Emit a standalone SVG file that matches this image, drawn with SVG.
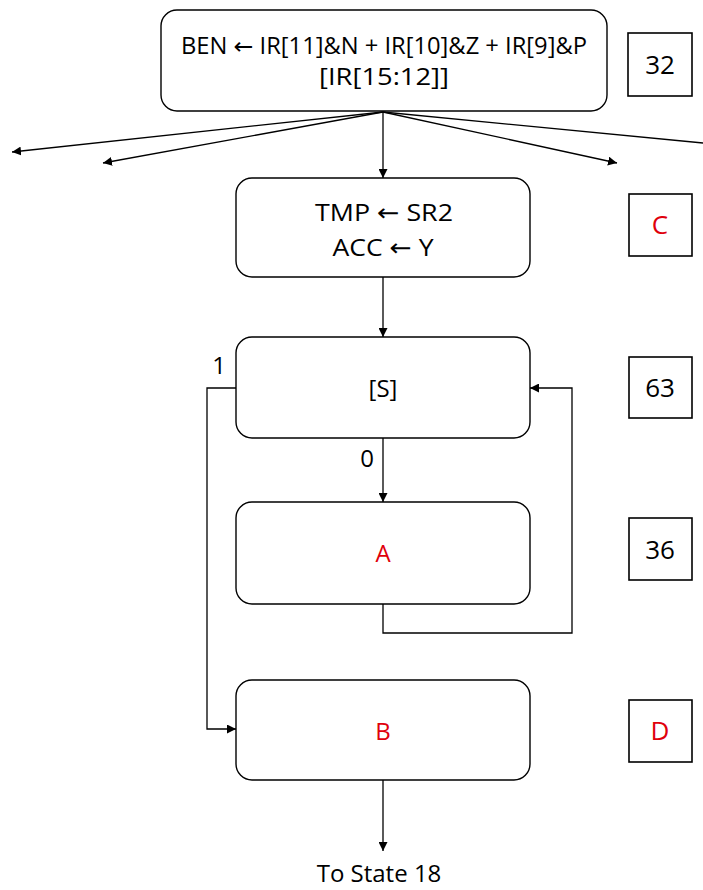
<svg xmlns="http://www.w3.org/2000/svg" width="703" height="890" viewBox="0 0 703 890">
  <defs>
    <marker id="arrow" viewBox="0 0 10 10" refX="10" refY="5" markerWidth="9" markerHeight="9" markerUnits="userSpaceOnUse" orient="auto">
      <path d="M0,0 L10,5 L0,10 z" fill="#000"/>
    </marker>
    <style>
      .state { fill: #fff; stroke: #000; stroke-width: 1.4; }
      .num { fill: #fff; stroke: #000; stroke-width: 1.6; }
      .txt { font-family: "Open Sans", "Liberation Sans", sans-serif; font-size: 24px; fill: #000; text-anchor: middle; }
      .big { font-size: 26px; }
      .head { font-size: 23px; }
      .arw { font-family: "DejaVu Sans", sans-serif; }
      .red { fill: #e0000b; }
      .wire { fill: none; stroke: #000; stroke-width: 1.3; }
      .arr { marker-end: url(#arrow); }
    </style>
  </defs>
  <rect width="703" height="890" fill="#fff"/>

  <!-- state 32: branch decode -->
  <g id="state32">
    <rect class="state" x="161" y="10" width="446" height="101" rx="16"/>
    <text class="txt head" x="384" y="54" textLength="406" lengthAdjust="spacingAndGlyphs">BEN <tspan class="arw">←</tspan> IR[11]&amp;N + IR[10]&amp;Z + IR[9]&amp;P</text>
    <text class="txt head" x="384" y="85" textLength="130" lengthAdjust="spacingAndGlyphs">[IR[15:12]]</text>
  </g>
  <g id="label32">
    <rect class="num" x="628" y="33" width="64" height="63"/>
    <text class="txt big" x="660" y="74">32</text>
  </g>

  <!-- state C -->
  <g id="stateC">
    <rect class="state" x="236" y="178" width="294" height="99" rx="16"/>
    <text class="txt" x="384" y="221" textLength="138" lengthAdjust="spacingAndGlyphs">TMP <tspan class="arw">←</tspan> SR2</text>
    <text class="txt" x="383" y="256" textLength="101" lengthAdjust="spacingAndGlyphs">ACC <tspan class="arw">←</tspan> Y</text>
  </g>
  <g id="labelC">
    <rect class="num" x="629" y="194" width="63" height="62"/>
    <text class="txt big red" x="660" y="234">C</text>
  </g>

  <!-- state 63 -->
  <g id="state63">
    <rect class="state" x="236" y="337" width="294" height="101" rx="16"/>
    <text class="txt" x="383" y="397">[S]</text>
  </g>
  <g id="label63">
    <rect class="num" x="629" y="357" width="63" height="61"/>
    <text class="txt big" x="660" y="397">63</text>
  </g>

  <!-- state 36 -->
  <g id="stateA">
    <rect class="state" x="236" y="502" width="294" height="102" rx="16"/>
    <text class="txt red" x="383" y="562">A</text>
  </g>
  <g id="label36">
    <rect class="num" x="629" y="518" width="63" height="62"/>
    <text class="txt big" x="660" y="559">36</text>
  </g>

  <!-- state D -->
  <g id="stateB">
    <rect class="state" x="236" y="680" width="294" height="100" rx="16"/>
    <text class="txt red" x="383" y="740">B</text>
  </g>
  <g id="labelD">
    <rect class="num" x="629" y="700" width="63" height="62"/>
    <text class="txt big red" x="660" y="740">D</text>
  </g>

  <!-- connectors -->
  <g id="connectors">
    <line class="wire arr" x1="383" y1="112" x2="12" y2="152"/>
    <line class="wire arr" x1="383" y1="112" x2="103" y2="163"/>
    <line class="wire arr" x1="383" y1="112" x2="383" y2="178"/>
    <line class="wire arr" x1="383" y1="112" x2="617" y2="163"/>
    <line class="wire" x1="383" y1="112" x2="703" y2="143"/>
    <line class="wire arr" x1="383" y1="277" x2="383" y2="337"/>
    <line class="wire arr" x1="383" y1="438" x2="383" y2="502"/>
    <polyline class="wire arr" points="383,604 383,633 572,633 572,388 530,388"/>
    <polyline class="wire arr" points="236,388 207,388 207,729 236,729"/>
    <line class="wire arr" x1="383" y1="780" x2="383" y2="851"/>
    <text class="txt" x="219" y="374">1</text>
    <text class="txt" x="367" y="467">0</text>
    <text class="txt" x="379" y="882">To State 18</text>
  </g>
</svg>
